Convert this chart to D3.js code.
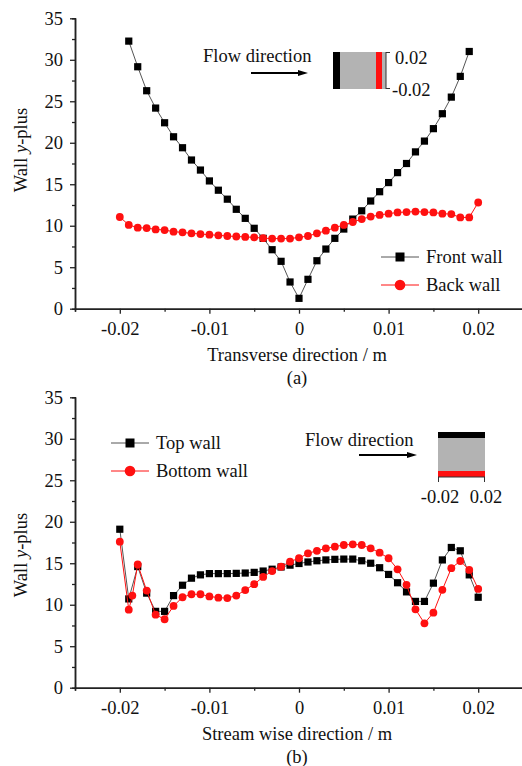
<!DOCTYPE html>
<html>
<head>
<meta charset="utf-8">
<script src="https://cdn.jsdelivr.net/npm/d3@7"></script>
<style>
  body { margin: 0; background: #fff; }
  svg text { font-family: "Liberation Serif", "Times New Roman", serif; }
</style>
</head>
<body>
<svg id="canvas"></svg>
<script>
let width = 522;
let height = 766;

// panel (a): transverse direction
let frontX = d3.range(-19, 20).map(i => i / 1000);
let frontWall = [32.25, 29.16, 26.27, 24.18, 22.41, 20.72, 19.40, 17.92, 16.71, 15.4,
  14.28, 13.2, 11.98, 10.89, 9.69, 8.48, 7.11, 5.71, 3.22, 1.25,
  3.54, 5.78, 7.19, 8.48, 9.6, 10.8, 11.8, 12.98, 14.1, 15.2,
  16.4, 17.5, 18.9, 20.2, 21.7, 23.5, 25.5, 28.0, 31.0];
let backX = d3.range(-20, 21).map(i => i / 1000);
let backWall = [11.05, 10.1, 9.76, 9.72, 9.56, 9.48, 9.28, 9.2, 9.08, 9.0,
  8.92, 8.84, 8.76, 8.7, 8.65, 8.6, 8.5, 8.45, 8.45, 8.45,
  8.6, 8.76, 9.08, 9.4, 9.76, 10.1, 10.45, 10.8, 11.1, 11.3,
  11.45, 11.6, 11.65, 11.7, 11.65, 11.6, 11.45, 11.4, 11.0, 11.0, 12.8];

// panel (b): stream wise direction
let topX = d3.range(-20, 21).map(i => i / 1000);
let topWall = [19.1, 10.7, 14.6, 11.4, 9.2, 9.2, 11.1, 12.35, 13.2, 13.6,
  13.75, 13.75, 13.75, 13.78, 13.82, 13.9, 14.06, 14.28, 14.55, 14.77,
  14.97, 15.15, 15.3, 15.4, 15.47, 15.5, 15.5, 15.3, 15.0, 14.46,
  13.65, 12.65, 11.55, 10.4, 10.4, 12.6, 15.4, 16.9, 16.5, 13.6, 10.9];
let bottomX = [-0.02, -0.019, -0.0186, -0.018, -0.017, -0.016, -0.015, -0.014, -0.013, -0.012,
  -0.011, -0.01, -0.009, -0.008, -0.007, -0.006, -0.005, -0.004, -0.003, -0.002,
  -0.001, 0, 0.001, 0.002, 0.003, 0.004, 0.005, 0.006, 0.007, 0.008,
  0.009, 0.01, 0.011, 0.012, 0.013, 0.014, 0.015, 0.016, 0.017, 0.018, 0.019, 0.02];
let bottomWall = [17.6, 9.4, 11.1, 14.85, 11.7, 8.8, 8.25, 9.85, 10.9, 11.26,
  11.26, 11.0, 10.85, 10.8, 11.1, 11.77, 12.48, 13.35, 14.06, 14.58,
  15.19, 15.6, 16.2, 16.5, 16.8, 17.0, 17.2, 17.28, 17.2, 16.8,
  16.27, 15.6, 14.27, 12.4, 9.45, 7.76, 9.04, 11.8, 14.4, 15.27, 14.2, 11.9];

let xTicks = [-0.02, -0.01, 0, 0.01, 0.02];
let xTickLabels = ['-0.02', '-0.01', '0', '0.01', '0.02'];
let xMinorTicks = [-0.025, -0.015, -0.005, 0.005, 0.015, 0.025];
let yTicks = [0, 5, 10, 15, 20, 25, 30, 35];
let yMinorTicks = [2.5, 7.5, 12.5, 17.5, 22.5, 27.5, 32.5];

let canvas = d3.select('#canvas').attr('width', width).attr('height', height);

let red = '#ff1010';
let serif = '"Liberation Serif", "Times New Roman", serif';
let fs = 18.5;

let drawPanel = (opts) => {
  let g = canvas.append('g');
  let xScale = d3.scaleLinear().domain([-0.025, 0.025]).range([75, 523]);
  let yScale = d3.scaleLinear().domain([0, 35]).range([opts.y0, opts.y35]);

  // minor ticks
  g.append('g')
    .attr('transform', `translate(0, ${opts.y0})`)
    .call(d3.axisBottom(xScale).tickValues(xMinorTicks).tickSize(3).tickFormat(''));
  g.append('g')
    .attr('transform', `translate(75, 0)`)
    .call(d3.axisLeft(yScale).tickValues(yMinorTicks).tickSize(3).tickFormat(''));

  // major axes
  g.append('g')
    .attr('transform', `translate(0, ${opts.y0})`)
    .call(d3.axisBottom(xScale).tickValues(xTicks).tickSize(5).tickPadding(8)
      .tickSizeOuter(0).tickFormat((d, i) => xTickLabels[i]));
  g.append('g')
    .attr('transform', `translate(75, 0)`)
    .call(d3.axisLeft(yScale).tickValues(yTicks).tickSize(5).tickPadding(7).tickSizeOuter(0));

  g.selectAll('g').attr('font-family', serif);
  g.selectAll('.domain').attr('stroke', '#222').attr('stroke-width', 1.5);
  g.selectAll('.tick line').attr('stroke', '#222').attr('stroke-width', 1.3);
  g.selectAll('.tick text').attr('font-size', fs).attr('fill', '#111');

  // axis titles
  g.append('text')
    .attr('x', 297).attr('y', opts.y0 + 52)
    .attr('text-anchor', 'middle').attr('font-size', fs).attr('fill', '#111')
    .text(opts.xTitle);
  g.append('text')
    .attr('x', 297).attr('y', opts.y0 + 75)
    .attr('text-anchor', 'middle').attr('font-size', fs).attr('fill', '#111')
    .text(opts.tag);
  let yl = g.append('text')
    .attr('transform', `translate(27, ${opts.yLabelY}) rotate(-90)`)
    .attr('text-anchor', 'middle').attr('font-size', fs).attr('fill', '#111');
  yl.append('tspan').text('Wall ');
  yl.append('tspan').attr('font-style', 'italic').text('y');
  yl.append('tspan').text('-plus');

  // series
  let line = d3.line().x(d => xScale(d[0])).y(d => yScale(d[1]));
  opts.series.forEach(s => {
    let pts = s.x.map((x, i) => [x, s.y[i]]);
    g.append('path').datum(pts)
      .attr('d', line).attr('fill', 'none')
      .attr('stroke', s.lineColor).attr('stroke-width', 1);
    if (s.shape === 'square') {
      g.selectAll(null).data(pts).enter().append('rect')
        .attr('x', d => xScale(d[0]) - 3.6).attr('y', d => yScale(d[1]) - 3.6)
        .attr('width', 7.2).attr('height', 7.2).attr('fill', s.color);
    } else {
      g.selectAll(null).data(pts).enter().append('circle')
        .attr('cx', d => xScale(d[0])).attr('cy', d => yScale(d[1]))
        .attr('r', 3.9).attr('fill', s.color);
    }
  });

  // legend
  opts.legend.items.forEach((s, i) => {
    let ly = opts.legend.y + i * 28;
    let lx = opts.legend.x;
    g.append('line').attr('x1', lx).attr('x2', lx + 38).attr('y1', ly).attr('y2', ly)
      .attr('stroke', s.lineColor).attr('stroke-width', 1);
    if (s.shape === 'square') {
      g.append('rect').attr('x', lx + 19 - 4.5).attr('y', ly - 4.5)
        .attr('width', 9).attr('height', 9).attr('fill', s.color);
    } else {
      g.append('circle').attr('cx', lx + 19).attr('cy', ly).attr('r', 5.3).attr('fill', s.color);
    }
    g.append('text').attr('x', lx + 45).attr('y', ly + 6)
      .attr('font-size', fs).attr('fill', '#111').text(s.name);
  });

  return g;
};

let arrow = (g, x1, x2, y) => {
  g.append('line').attr('x1', x1).attr('x2', x2 - 8).attr('y1', y).attr('y2', y)
    .attr('stroke', '#000').attr('stroke-width', 2);
  g.append('path').attr('d', `M${x2},${y} L${x2 - 10},${y - 3} L${x2 - 10},${y + 3} Z`).attr('fill', '#000');
};

// panel (a)
let ga = drawPanel({
  y0: 308.7, y35: 18.3, yLabelY: 150,
  xTitle: 'Transverse direction / m', tag: '(a)',
  series: [
    { x: frontX, y: frontWall, shape: 'square', color: '#000', lineColor: '#555' },
    { x: backX, y: backWall, shape: 'circle', color: red, lineColor: red }
  ],
  legend: { x: 381, y: 257, items: [
    { name: 'Front wall', shape: 'square', color: '#000', lineColor: '#555' },
    { name: 'Back wall', shape: 'circle', color: red, lineColor: red }
  ] }
});
ga.append('text').attr('x', 203).attr('y', 62).attr('font-size', fs).attr('fill', '#111').text('Flow direction');
arrow(ga, 251, 308, 73);
ga.append('rect').attr('x', 333).attr('y', 52).attr('width', 53).attr('height', 37).attr('fill', '#b3b3b3');
ga.append('rect').attr('x', 333).attr('y', 52).attr('width', 7).attr('height', 37).attr('fill', '#000');
ga.append('rect').attr('x', 376).attr('y', 52).attr('width', 6).attr('height', 37).attr('fill', red);
ga.append('path').attr('d', 'M386,52.5 H390 M386,88.5 H390 M386,52 V89').attr('stroke', '#333').attr('fill', 'none');
ga.append('text').attr('x', 395).attr('y', 64).attr('font-size', fs).attr('fill', '#111').text('0.02');
ga.append('text').attr('x', 392).attr('y', 96).attr('font-size', fs).attr('fill', '#111').text('-0.02');

// panel (b)
let gb = drawPanel({
  y0: 687.7, y35: 397.3, yLabelY: 555,
  xTitle: 'Stream wise direction / m', tag: '(b)',
  series: [
    { x: topX, y: topWall, shape: 'square', color: '#000', lineColor: '#555' },
    { x: bottomX, y: bottomWall, shape: 'circle', color: red, lineColor: red }
  ],
  legend: { x: 111, y: 443, items: [
    { name: 'Top wall', shape: 'square', color: '#000', lineColor: '#555' },
    { name: 'Bottom wall', shape: 'circle', color: red, lineColor: red }
  ] }
});
gb.append('text').attr('x', 305).attr('y', 446).attr('font-size', fs).attr('fill', '#111').text('Flow direction');
arrow(gb, 359, 417, 455);
gb.append('rect').attr('x', 438).attr('y', 432).attr('width', 47).attr('height', 45).attr('fill', '#b3b3b3');
gb.append('rect').attr('x', 438).attr('y', 432).attr('width', 47).attr('height', 6).attr('fill', '#000');
gb.append('rect').attr('x', 438).attr('y', 471).attr('width', 47).attr('height', 6).attr('fill', red);
gb.append('path').attr('d', 'M438.5,477 V482 M484.5,477 V482 M438,477 H485').attr('stroke', '#333').attr('fill', 'none');
gb.append('text').attr('x', 440).attr('y', 503).attr('text-anchor', 'middle').attr('font-size', fs).attr('fill', '#111').text('-0.02');
gb.append('text').attr('x', 486).attr('y', 503).attr('text-anchor', 'middle').attr('font-size', fs).attr('fill', '#111').text('0.02');
</script>
</body>
</html>
